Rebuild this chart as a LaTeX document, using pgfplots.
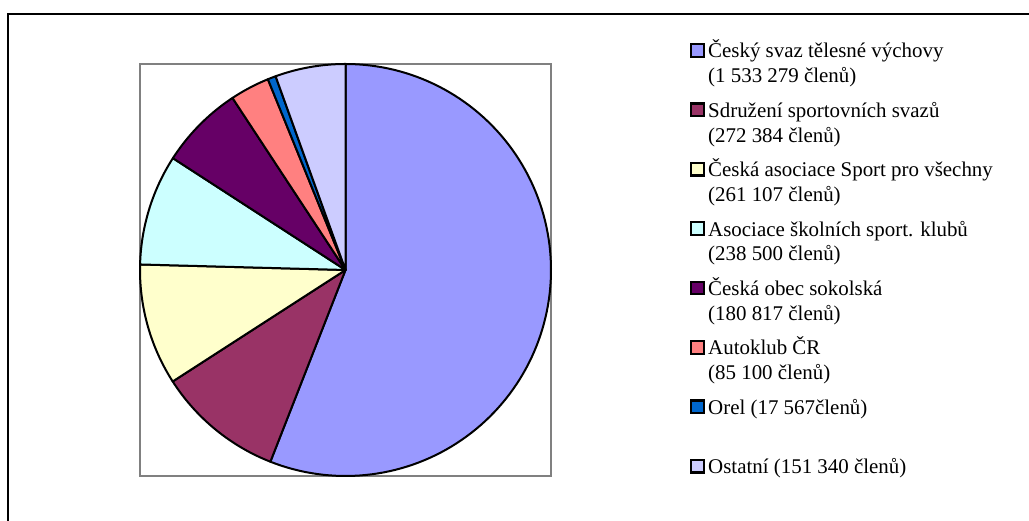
\documentclass[border=0pt]{standalone}
\usepackage{pgfplots}
\pgfplotsset{compat=1.18}
\usepackage{fontspec}
\setmainfont{Liberation Serif}
\definecolor{cA}{HTML}{9999FF}
\definecolor{cB}{HTML}{993366}
\definecolor{cC}{HTML}{FFFFCC}
\definecolor{cD}{HTML}{CCFFFF}
\definecolor{cE}{HTML}{660066}
\definecolor{cF}{HTML}{FF8080}
\definecolor{cG}{HTML}{0066CC}
\definecolor{cH}{HTML}{CCCCFF}
\definecolor{boxgray}{HTML}{808080}
% members in thousands
\def\vA{1533.279}
\def\vB{272.384}
\def\vC{261.107}
\def\vD{238.500}
\def\vE{180.817}
\def\vF{85.100}
\def\vG{17.567}
\def\vH{151.340}
\begin{document}
\begin{tikzpicture}[x=1bp,y=1bp]
\pgfmathsetmacro\tot{\vA+\vB+\vC+\vD+\vE+\vF+\vG+\vH}
\pgfmathsetmacro\aA{90}
\pgfmathsetmacro\aB{\aA-\vA/\tot*360}
\pgfmathsetmacro\aC{\aB-\vB/\tot*360}
\pgfmathsetmacro\aD{\aC-\vC/\tot*360}
\pgfmathsetmacro\aE{\aD-\vD/\tot*360}
\pgfmathsetmacro\aF{\aE-\vE/\tot*360}
\pgfmathsetmacro\aG{\aF-\vF/\tot*360}
\pgfmathsetmacro\aH{\aG-\vG/\tot*360}
\pgfmathsetmacro\aI{-270}
\useasboundingbox (0,0) rectangle (1029,521);
\draw[line width=2.2bp,black] (8,0) -- (8,507) -- (1029,507);
\begin{axis}[
  at={(140bp,45bp)}, anchor=south west,
  scale only axis, width=411bp, height=412bp,
  xmin=-1, xmax=1, ymin=-1, ymax=1,
  ticks=none, clip=false,
  axis line style={draw=boxgray, line width=2.2bp},
  every axis plot/.append style={draw=black, line width=2bp, line join=round},
]
\addplot[fill=cA, domain=\aB:\aA, samples=120, variable=\t] ({cos(\t)},{sin(\t)}) -- (axis cs:0,0) -- cycle;
\addplot[fill=cB, domain=\aC:\aB, samples=40, variable=\t] ({cos(\t)},{sin(\t)}) -- (axis cs:0,0) -- cycle;
\addplot[fill=cC, domain=\aD:\aC, samples=40, variable=\t] ({cos(\t)},{sin(\t)}) -- (axis cs:0,0) -- cycle;
\addplot[fill=cD, domain=\aE:\aD, samples=40, variable=\t] ({cos(\t)},{sin(\t)}) -- (axis cs:0,0) -- cycle;
\addplot[fill=cE, domain=\aF:\aE, samples=30, variable=\t] ({cos(\t)},{sin(\t)}) -- (axis cs:0,0) -- cycle;
\addplot[fill=cF, domain=\aG:\aF, samples=20, variable=\t] ({cos(\t)},{sin(\t)}) -- (axis cs:0,0) -- cycle;
\addplot[fill=cG, domain=\aH:\aG, samples=5, variable=\t] ({cos(\t)},{sin(\t)}) -- (axis cs:0,0) -- cycle;
\addplot[fill=cH, domain=\aI:\aH, samples=30, variable=\t] ({cos(\t)},{sin(\t)}) -- (axis cs:0,0) -- cycle;
\end{axis}
% legend
\fontsize{21}{24.7}\selectfont
\foreach \i/\c/\la/\lb in {
  0/cA/{Český svaz tělesné výchovy}/{(1 533 279 členů)},
  1/cB/{Sdružení sportovních svazů}/{(272 384 členů)},
  2/cC/{Česká asociace Sport pro všechny}/{(261 107 členů)},
  3/cD/{Asociace školních sport. klubů}/{(238 500 členů)},
  4/cE/{Česká obec sokolská}/{(180 817 členů)},
  5/cF/{Autoklub ČR}/{(85 100 členů)},
  6/cG/{Orel (17 567členů)}/{},
  7/cH/{Ostatní (151 340 členů)}/{}}{
  \pgfmathsetmacro\yb{463-59.4*\i}
  \filldraw[fill=\c, draw=black, line width=2.2bp] (691.2,\yb+1.2) rectangle (703.8,\yb+13.8);
  \node[anchor=base west, inner sep=0pt] at (708,\yb) {\la};
  \node[anchor=base west, inner sep=0pt] at (708,\yb-24.7) {\lb};
}
\end{tikzpicture}
\end{document}
